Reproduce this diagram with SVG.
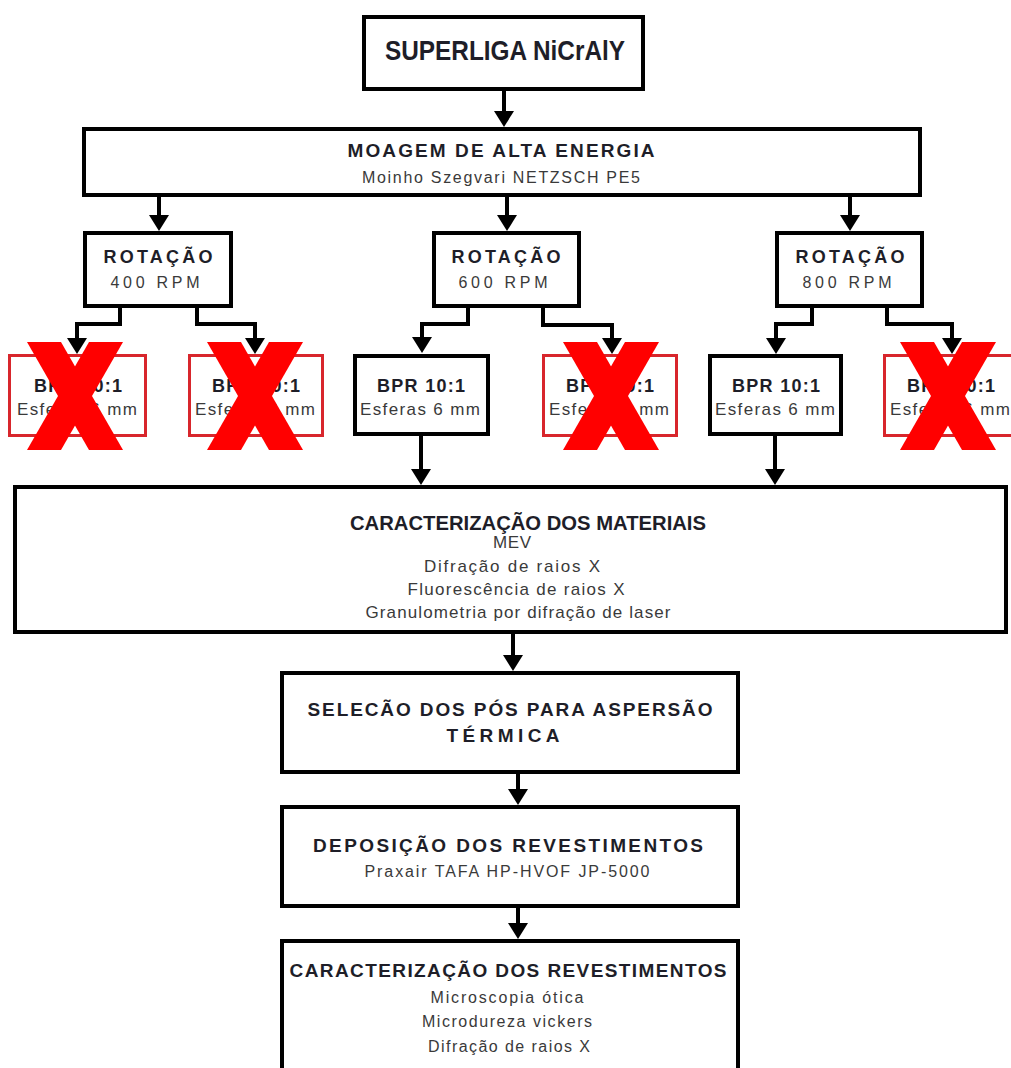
<svg xmlns="http://www.w3.org/2000/svg" width="1011" height="1068" viewBox="0 0 1011 1068">
<style>
.box{fill:#fff;stroke:#000;stroke-width:4}
.rbox{fill:#fff;stroke:#d8262c;stroke-width:3}
.t{font-family:"Liberation Sans",Arial,sans-serif;font-weight:bold;fill:#1e1e28;text-anchor:middle}
.s{font-family:"Liberation Sans",Arial,sans-serif;fill:#3a3a3a;text-anchor:middle}
.con{fill:none;stroke:#000;stroke-width:4}
.x{fill:#ff0000}
</style>
<defs>
<marker id="ah" viewBox="0 0 16 20" refX="10" refY="10" markerWidth="16" markerHeight="20" markerUnits="userSpaceOnUse" orient="auto">
<path d="M0,0 L16,10 L0,20 Z" fill="#000"/>
</marker>
</defs>
<rect width="1011" height="1068" fill="#fff"/>

<g id="connectors">
<path class="con" marker-end="url(#ah)" d="M504,91 V121"/>
<path class="con" marker-end="url(#ah)" d="M159,197 V225"/>
<path class="con" marker-end="url(#ah)" d="M507,197 V225"/>
<path class="con" marker-end="url(#ah)" d="M850,197 V225"/>
<path class="con" marker-end="url(#ah)" d="M120,308 V324 H77 V348"/>
<path class="con" marker-end="url(#ah)" d="M197,308 V324 H255 V348"/>
<path class="con" marker-end="url(#ah)" d="M468,308 V324 H422 V347"/>
<path class="con" marker-end="url(#ah)" d="M543,308 V325 H612 V348"/>
<path class="con" marker-end="url(#ah)" d="M812,308 V324 H776 V348"/>
<path class="con" marker-end="url(#ah)" d="M887,308 V324 H952 V348"/>
<path class="con" marker-end="url(#ah)" d="M421,436 V479"/>
<path class="con" marker-end="url(#ah)" d="M775,436 V479"/>
<path class="con" marker-end="url(#ah)" d="M513,634 V665"/>
<path class="con" marker-end="url(#ah)" d="M518,774 V799"/>
<path class="con" marker-end="url(#ah)" d="M518,908 V933"/>
</g>

<g id="superliga">
<rect class="box" x="364" y="17" width="279" height="72"/>
<text class="t" x="505" y="60" font-size="28" textLength="240" lengthAdjust="spacingAndGlyphs">SUPERLIGA NiCrAlY</text>
</g>

<g id="moagem">
<rect class="box" x="84" y="129" width="836" height="66"/>
<text class="t" x="501" y="157" font-size="19" textLength="307">MOAGEM DE ALTA ENERGIA</text>
<text class="s" x="501" y="183" font-size="16" textLength="278">Moinho Szegvari NETZSCH PE5</text>
</g>

<g id="rot400">
<rect class="box" x="85" y="233" width="146" height="73"/>
<text class="t" x="158" y="263" font-size="18" textLength="109">ROTAÇÃO</text>
<text class="s" x="155" y="288" font-size="16" textLength="89">400 RPM</text>
</g>
<g id="rot600">
<rect class="box" x="434" y="233" width="145" height="73"/>
<text class="t" x="506" y="263" font-size="18" textLength="109">ROTAÇÃO</text>
<text class="s" x="503" y="288" font-size="16" textLength="89">600 RPM</text>
</g>
<g id="rot800">
<rect class="box" x="777" y="233" width="145" height="73"/>
<text class="t" x="850" y="263" font-size="18" textLength="109">ROTAÇÃO</text>
<text class="s" x="847" y="288" font-size="16" textLength="89">800 RPM</text>
</g>

<g id="bpr400a">
<rect class="rbox" x="9.5" y="355.5" width="136" height="80"/>
<text class="t" x="78" y="392" font-size="18" textLength="88">BPR 10:1</text>
<text class="s" x="77" y="415" font-size="17" textLength="120">Esferas 6 mm</text>
<polygon class="x" points="27,342 61,342 123,450 89,450"/>
<polygon class="x" points="89,342 123,342 61,450 27,450"/>
</g>
<g id="bpr400b">
<rect class="rbox" x="189.5" y="355.5" width="133" height="80"/>
<text class="t" x="256" y="392" font-size="18" textLength="88">BPR 10:1</text>
<text class="s" x="255" y="415" font-size="17" textLength="120">Esferas 6 mm</text>
<polygon class="x" points="207,342 241,342 303,450 269,450"/>
<polygon class="x" points="269,342 303,342 241,450 207,450"/>
</g>
<g id="bpr600a">
<rect class="box" x="355" y="356" width="133" height="78"/>
<text class="t" x="421" y="392" font-size="18" textLength="88">BPR 10:1</text>
<text class="s" x="420" y="415" font-size="17" textLength="120">Esferas 6 mm</text>
</g>
<g id="bpr600b">
<rect class="rbox" x="543.5" y="355.5" width="133" height="80"/>
<text class="t" x="610" y="392" font-size="18" textLength="88">BPR 10:1</text>
<text class="s" x="609" y="415" font-size="17" textLength="120">Esferas 6 mm</text>
<polygon class="x" points="563,342 597,342 659,450 625,450"/>
<polygon class="x" points="625,342 659,342 597,450 563,450"/>
</g>
<g id="bpr800a">
<rect class="box" x="710" y="356" width="131" height="78"/>
<text class="t" x="776" y="392" font-size="18" textLength="88">BPR 10:1</text>
<text class="s" x="775" y="415" font-size="17" textLength="120">Esferas 6 mm</text>
</g>
<g id="bpr800b">
<rect class="rbox" x="884.5" y="355.5" width="140" height="80"/>
<text class="t" x="951" y="392" font-size="18" textLength="88">BPR 10:1</text>
<text class="s" x="950" y="415" font-size="17" textLength="120">Esferas 6 mm</text>
<polygon class="x" points="900,342 934,342 996,450 962,450"/>
<polygon class="x" points="962,342 996,342 934,450 900,450"/>
</g>

<g id="caract-materiais">
<rect class="box" x="15" y="487" width="991" height="145"/>
<text class="t" x="528" y="530" font-size="21" textLength="356" lengthAdjust="spacingAndGlyphs">CARACTERIZAÇÃO DOS MATERIAIS</text>
<text class="s" x="512" y="548" font-size="17" textLength="38">MEV</text>
<text class="s" x="512" y="572" font-size="17" textLength="176">Difração de raios X</text>
<text class="s" x="516" y="595" font-size="17" textLength="217">Fluorescência de raios X</text>
<text class="s" x="518" y="618" font-size="17" textLength="305">Granulometria por difração de laser</text>
</g>

<g id="selecao">
<rect class="box" x="282" y="673" width="456" height="99"/>
<text class="t" x="510" y="716" font-size="19" textLength="405">SELECÃO DOS PÓS PARA ASPERSÃO</text>
<text class="t" x="503" y="742" font-size="19" textLength="113">TÉRMICA</text>
</g>

<g id="deposicao">
<rect class="box" x="282" y="807" width="456" height="99"/>
<text class="t" x="508" y="852" font-size="19" textLength="390">DEPOSIÇÃO DOS REVESTIMENTOS</text>
<text class="s" x="507" y="877" font-size="16" textLength="285">Praxair TAFA HP-HVOF JP-5000</text>
</g>

<g id="caract-revestimentos">
<rect class="box" x="282" y="941" width="456" height="140"/>
<text class="t" x="508" y="977" font-size="19" textLength="437">CARACTERIZAÇÃO DOS REVESTIMENTOS</text>
<text class="s" x="507" y="1003" font-size="16" textLength="153">Microscopia ótica</text>
<text class="s" x="507" y="1027" font-size="16" textLength="170">Microdureza vickers</text>
<text class="s" x="509" y="1052" font-size="16" textLength="162">Difração de raios X</text>
</g>
</svg>
